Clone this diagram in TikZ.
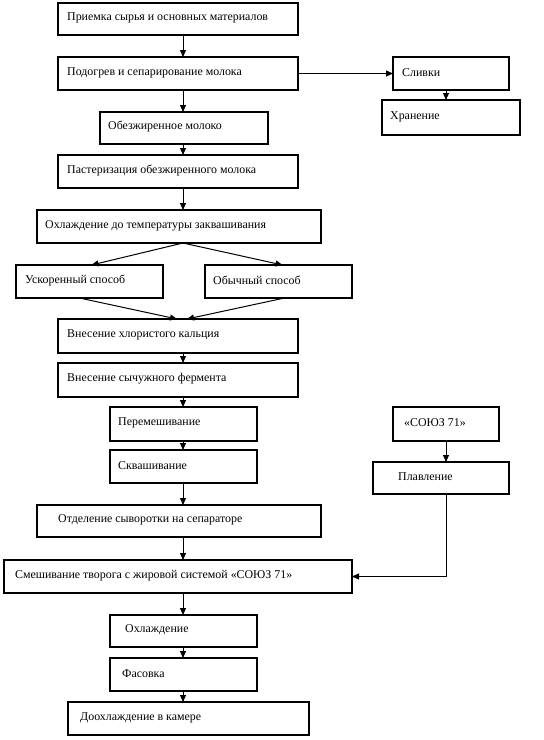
\documentclass[tikz,border=0pt]{standalone}
\usepackage{fontspec}
\setmainfont{Liberation Serif}
\usetikzlibrary{arrows.meta,calc}
\tikzset{
  box/.style={draw, line width=1.2pt, inner sep=0pt, outer sep=0pt},
  lbl/.style={anchor=west, inner sep=0pt, font=\fontsize{11.9}{13}\selectfont},
  arr/.style={line width=1pt, -{Triangle[length=7pt,width=6pt]}},
  ln/.style={line width=1pt}
}
\newcommand\bx[7]{%
  \node[box, minimum width={#4pt-#2pt}, minimum height={#5pt-#3pt}] (#1) at ({(#2+#4)/2},{(#3+#5)/2}) {};
  \node[lbl] (#1t) at ([xshift=#6pt,yshift=1pt]#1.west) {#7};}
\begin{document}
\begin{tikzpicture}[x=1pt,y=-1pt]
\useasboundingbox (0,0) rectangle (544,740);
\coordinate (sp) at (183,0);
\coordinate (rs) at (446,0);
\bx{b1}{58}{3}{298}{35}{9}{Приемка сырья и основных материалов}
\bx{b2}{58}{57}{298}{90}{9}{Подогрев и сепарирование молока}
\bx{sl}{393}{57}{509}{90}{9}{Сливки}
\bx{hr}{382}{100}{520}{135}{8}{Хранение}
\bx{ob}{100}{112}{268}{144}{8}{Обезжиренное молоко}
\bx{pa}{58}{155}{298}{188}{9}{Пастеризация обезжиренного молока}
\bx{oh}{37}{210}{321}{243}{8}{Охлаждение до температуры заквашивания}
\bx{us}{16}{265}{163}{298}{9}{Ускоренный способ}
\bx{ou}{205}{265}{352}{298}{8}{Обычный способ}
\bx{va}{58}{319}{298}{353}{9}{Внесение хлористого кальция}
\bx{vb}{58}{363}{298}{397}{9}{Внесение сычужного фермента}
\bx{pe}{110}{407}{257}{441}{8}{Перемешивание}
\bx{so}{393}{407}{499}{441}{11}{«СОЮЗ 71»}
\bx{sk}{110}{450}{257}{483}{8}{Сквашивание}
\bx{pl}{373}{462}{509}{494}{25}{Плавление}
\bx{ot}{37}{505}{321}{537}{21}{Отделение сыворотки на сепараторе}
\bx{sm}{4}{560}{352}{593}{11}{Смешивание творога с жировой системой «СОЮЗ 71»}
\bx{oc}{110}{615}{257}{647}{15}{Охлаждение}
\bx{fa}{110}{658}{257}{691}{12}{Фасовка}
\bx{dc}{68}{702}{309}{735}{12}{Доохлаждение в камере}
% main spine
\draw[arr] (b1.south -| sp) -- (b2.north -| sp);
\draw[arr] (b2.south -| sp) -- (ob.north -| sp);
\draw[arr] (ob.south -| sp) -- (pa.north -| sp);
\draw[arr] (pa.south -| sp) -- (oh.north -| sp);
\draw[arr] (oh.south -| sp) -- ($(us.north)+(2,0)$);
\draw[arr] (oh.south -| sp) -- ($(ou.north)+(4,0)$);
\draw[arr] ($(us.south)+(-10,0)$) -- ($(va.north -| sp)+(-6,0)$);
\draw[arr] ($(ou.south)+(6,0)$) -- ($(va.north -| sp)+(4,0)$);
\draw[arr] (va.south -| sp) -- (vb.north -| sp);
\draw[arr] (vb.south -| sp) -- (pe.north -| sp);
\draw[arr] (pe.south -| sp) -- (sk.north -| sp);
\draw[arr] (sk.south -| sp) -- (ot.north -| sp);
\draw[arr] (ot.south -| sp) -- (sm.north -| sp);
\draw[arr] (sm.south -| sp) -- (oc.north -| sp);
\draw[arr] (oc.south -| sp) -- (fa.north -| sp);
\draw[arr] (fa.south -| sp) -- (dc.north -| sp);
% right branch
\draw[arr] (b2.east) -- (sl.west);
\draw[arr] (sl.south -| rs) -- (hr.north -| rs);
\draw[arr] (so.south -| rs) -- (pl.north -| rs);
\draw[arr] (pl.south -| rs) |- (sm.east);
\end{tikzpicture}
\end{document}
